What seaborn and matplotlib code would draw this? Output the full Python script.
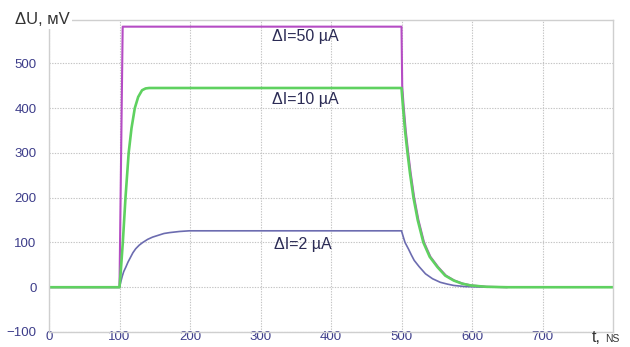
import matplotlib
matplotlib.use("Agg")
import matplotlib.pyplot as plt
import seaborn as sns
import pandas as pd

# ---- data ----
t_50 = [0, 100, 104.5, 500, 501, 503, 506, 509.5, 513, 518, 524, 532, 541, 552, 563, 575, 587, 599, 621, 650]
u_50 = [0, 0, 582, 582, 450, 405, 350, 300, 255, 200, 150, 100, 68, 45, 26, 15, 8, 4, 1, 0]

t_10 = [0, 100, 102, 104.7, 108.5, 113, 117, 121.7, 126.5, 132, 137, 142,
        500, 502, 505, 508.5, 512, 517, 523, 531, 540, 551, 562, 574, 586, 598, 620, 650, 800]
u_10 = [0, 0, 40, 100, 200, 300, 355, 400, 425, 440, 444, 445,
        445, 405, 350, 300, 255, 200, 150, 100, 68, 45, 26, 15, 8, 4, 1, 0, 0]

t_2 = [0, 100, 102, 104, 106, 109, 112, 115, 119, 123, 128, 133, 140, 147, 155, 163, 171, 185, 199,
       500, 503, 505, 510, 514, 518, 525, 534, 544, 555, 565, 574, 590, 610, 650]
u_2 = [0, 0, 13, 25, 35, 45, 56, 65, 77, 86, 94, 100, 107, 112, 116, 120, 122, 124.5, 126,
       126, 110, 100, 85, 72, 60, 46, 30, 19, 11, 7, 4, 1.5, 0.5, 0]

series_names = ["ΔI=2 µA", "ΔI=50 µA", "ΔI=10 µA"]
x_ticks = [0, 100, 200, 300, 400, 500, 600, 700]
y_ticks = [-100, 0, 100, 200, 300, 400, 500]

df = pd.concat([
    pd.DataFrame({"t": t_2, "u": u_2, "s": series_names[0]}),
    pd.DataFrame({"t": t_50, "u": u_50, "s": series_names[1]}),
    pd.DataFrame({"t": t_10, "u": u_10, "s": series_names[2]}),
], ignore_index=True)

sns.set_theme(style="white")
plt.rcParams["font.family"] = ["Liberation Sans", "DejaVu Sans"]

fig = plt.figure(figsize=(6.3, 3.47), dpi=100)
ax = fig.add_axes([49/630, 15/347, 564/630, 312.5/347])

palette = {series_names[0]: "#6c6cb0", series_names[1]: "#b54cc4", series_names[2]: "#5fd160"}
widths = {series_names[0]: 1.2, series_names[1]: 1.5, series_names[2]: 1.9}
for name in series_names:
    sub = df[df["s"] == name]
    sns.lineplot(data=sub, x="t", y="u", color=palette[name], lw=widths[name],
                 sort=False, estimator=None, ax=ax, legend=False)

ax.set_xlim(0, 800)
ax.set_ylim(-100, 598)
ax.set_xticks(x_ticks)
ax.set_yticks(y_ticks)
ax.set_xlabel("")
ax.set_ylabel("")
ax.grid(True, color="#c4c4c4", linestyle=(0, (1.2, 1.2)), linewidth=0.8)
for sp in ax.spines.values():
    sp.set_color("#cfcfcf")
    sp.set_linewidth(1.0)
ax.tick_params(axis="both", length=0, labelsize=9.5, labelcolor="#3d3d8a")
ax.tick_params(axis="y", pad=9)
ax.tick_params(axis="x", pad=-1)

txtc = "#2b2b55"
ax.text(363, 559, "ΔI=50 µA", ha="center", va="center", fontsize=11.5, color=txtc)
ax.text(363, 420, "ΔI=10 µA", ha="center", va="center", fontsize=11.5, color=txtc)
ax.text(360, 96, "ΔI=2 µA", ha="center", va="center", fontsize=11.5, color=txtc)

fig.text(15/630, 1 - 19/347, "ΔU, мV", ha="left", va="center", fontsize=12,
         color="#333333", bbox=dict(facecolor="white", edgecolor="none", pad=1.5))
fig.text(592/630, 1 - 338/347, "t,", ha="left", va="center", fontsize=11.5, color="#333333")
fig.text(605/630, 1 - 339/347, "NS", ha="left", va="center", fontsize=7.5, color="#333333")

fig.savefig("out.png", dpi=100)
